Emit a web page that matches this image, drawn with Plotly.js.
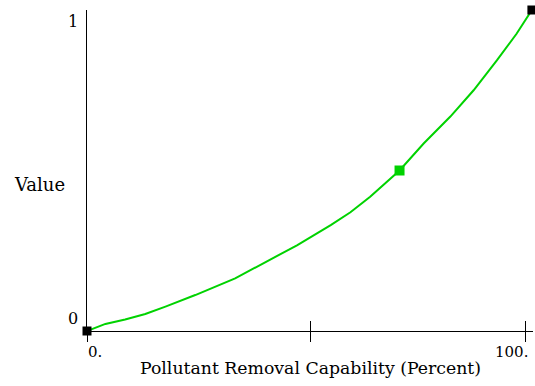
<!DOCTYPE html>
<html>
<head>
<meta charset="utf-8">
<script src="https://cdn.plot.ly/plotly-3.0.1.min.js"></script>
<style>html,body{margin:0;padding:0;background:#fff;}#chart{width:535px;height:386px;}</style>
</head>
<body>
<div id="chart"></div>
<script>
// Value function curve
const curveX = [0, 4.2, 8.7, 13.3, 17.9, 24.7, 33.8, 41.8, 47.9, 55.6, 60.1, 64.6, 69.2, 71.3, 76.8, 82.9, 88.2, 93.5, 98.0, 101.5];
const curveY = [0, 0.022, 0.036, 0.053, 0.076, 0.112, 0.164, 0.221, 0.267, 0.330, 0.370, 0.418, 0.474, 0.5, 0.584, 0.668, 0.750, 0.843, 0.926, 1.0];
const endX = [0, 101.5];
const endY = [0, 1.0];
const midX = [71.3];
const midY = [0.5];
const xTickVals = [0, 51.1, 100];
const xTickLabels = ['0.', '', '100.'];
const yTickVals = [0, 1];
const yTickLabels = ['0', '1'];
const xTitle = 'Pollutant Removal Capability (Percent)';
const yTitle = 'Value';

const FONT = 'DejaVu Serif';
const green = 'rgb(0,210,0)';

const traces = [
  {x: curveX, y: curveY, mode: 'lines', line: {color: green, width: 2}, cliponaxis: false, hoverinfo: 'skip'},
  {x: endX, y: endY, mode: 'markers', marker: {symbol: 'square', size: 9, color: '#000'}, cliponaxis: false},
  {x: midX, y: midY, mode: 'markers', marker: {symbol: 'square', size: 10, color: green}, cliponaxis: false},
  {x: [], y: [], xaxis: 'x2', yaxis: 'y'}
];

const annotations = [];
xTickVals.forEach((v, i) => {
  if (!xTickLabels[i]) return;
  annotations.push({
    x: v, xref: 'x', y: 0, yref: 'paper', yshift: -21,
    xanchor: i === 0 ? 'left' : 'right', xshift: i === 0 ? -1 : 5,
    yanchor: 'middle', text: xTickLabels[i], showarrow: false,
    font: {family: FONT, size: 15, color: '#000'}
  });
});
yTickVals.forEach((v, i) => {
  annotations.push({
    x: 0, xref: 'paper', xshift: -14, xanchor: 'center',
    y: v, yref: 'y', yshift: v === 0 ? 12.5 : -11, yanchor: 'middle',
    text: yTickLabels[i], showarrow: false,
    font: {family: FONT, size: 16, color: '#000'}
  });
});
annotations.push({
  x: 0.5, xref: 'paper', y: -0.115, yref: 'paper', xanchor: 'center', yanchor: 'middle',
  text: xTitle, showarrow: false, font: {family: FONT, size: 17.3, color: '#000'}
});
annotations.push({
  x: 0, xref: 'paper', xshift: -48, xanchor: 'center', y: 0.457, yref: 'paper', yanchor: 'middle',
  text: yTitle, showarrow: false, font: {family: FONT, size: 18, color: '#000'}
});

const layout = {
  width: 535, height: 386,
  margin: {l: 87, r: 2, t: 10, b: 55},
  paper_bgcolor: '#fff', plot_bgcolor: '#fff',
  showlegend: false,
  font: {family: FONT, color: '#000'},
  xaxis: {
    range: [0, 101.75], showgrid: false, zeroline: false,
    showline: true, linecolor: '#000', linewidth: 1,
    ticks: 'outside', ticklen: 10, tickwidth: 1, tickcolor: '#000',
    tickvals: xTickVals, showticklabels: false, fixedrange: true
  },
  xaxis2: {
    overlaying: 'x', matches: 'x', anchor: 'y', showgrid: false, zeroline: false,
    showline: false, ticks: 'inside', ticklen: 10, tickwidth: 1, tickcolor: '#000',
    tickvals: xTickVals, showticklabels: false
  },
  yaxis: {
    range: [0, 1], showgrid: false, zeroline: false,
    showline: true, linecolor: '#000', linewidth: 1,
    ticks: '', showticklabels: false, fixedrange: true
  },
  annotations: annotations
};

Plotly.newPlot('chart', traces, layout, {displayModeBar: false, staticPlot: true});
</script>
</body>
</html>
